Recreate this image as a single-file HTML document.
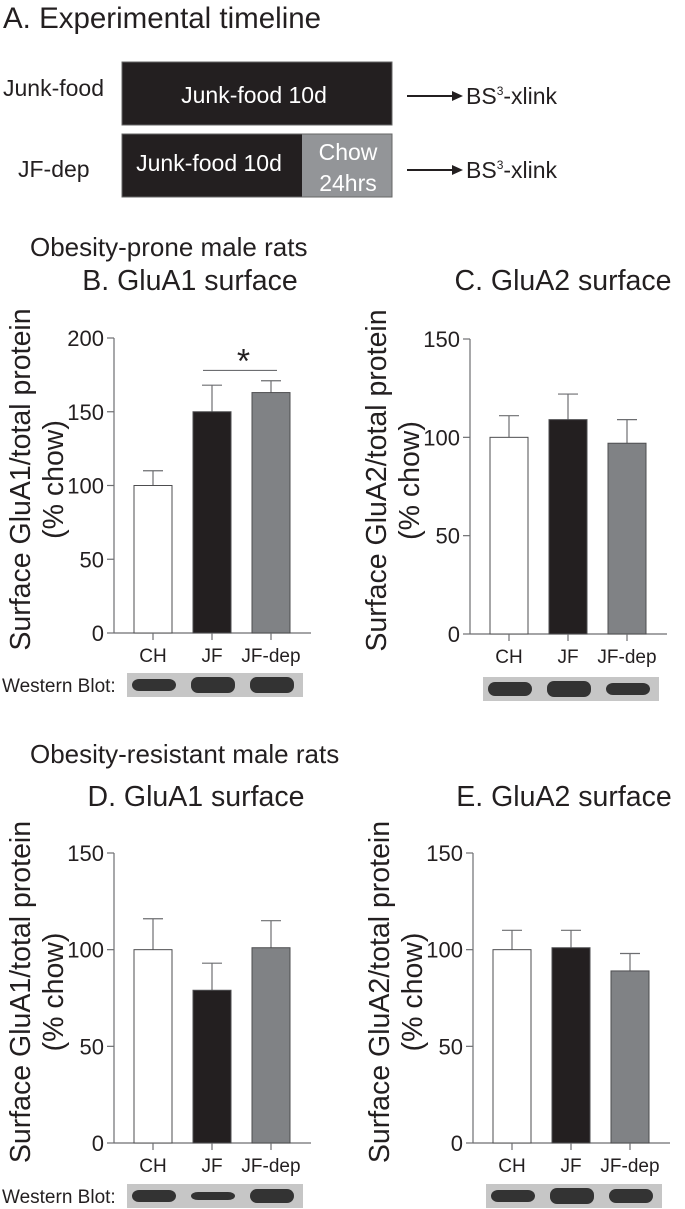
<!DOCTYPE html>
<html><head><meta charset="utf-8">
<style>
html,body{margin:0;padding:0;background:#fff;}
svg{display:block;font-family:"Liberation Sans",Arial,sans-serif;}
</style></head>
<body>
<svg id="fig" width="685" height="1209" viewBox="0 0 685 1209" xmlns="http://www.w3.org/2000/svg">
  <g>
    <text x="3" y="28" font-size="29.5" fill="#231f20">A. Experimental timeline</text>
    <text x="3" y="96" font-size="23" fill="#231f20">Junk-food</text>
    <rect x="122" y="62" width="270" height="63" fill="#231f20" stroke="#666"/>
    <text x="254" y="103" font-size="23" fill="#fff" text-anchor="middle">Junk-food 10d</text>
    <line x1="407" y1="96" x2="454" y2="96" stroke="#231f20" stroke-width="2"/>
    <polygon points="452,91 463,96 452,101" fill="#231f20"/>
    <text x="466" y="104" font-size="23" fill="#231f20">BS<tspan font-size="12" dy="-9">3</tspan><tspan dy="9">-xlink</tspan></text>

    <text x="18" y="177" font-size="23" fill="#231f20">JF-dep</text>
    <rect x="122" y="134" width="180" height="63" fill="#231f20"/>
    <rect x="302" y="134" width="90" height="63" fill="#939598"/>
    <rect x="122" y="134" width="270" height="63" fill="none" stroke="#666"/>
    <text x="209" y="171" font-size="23" fill="#fff" text-anchor="middle">Junk-food 10d</text>
    <text x="348" y="160" font-size="23" fill="#fff" text-anchor="middle">Chow</text>
    <text x="348" y="191" font-size="23" fill="#fff" text-anchor="middle">24hrs</text>
    <line x1="407" y1="170" x2="454" y2="170" stroke="#231f20" stroke-width="2"/>
    <polygon points="452,165 463,170 452,175" fill="#231f20"/>
    <text x="466" y="178" font-size="23" fill="#231f20">BS<tspan font-size="12" dy="-9">3</tspan><tspan dy="9">-xlink</tspan></text>
  </g>
  <text x="30" y="256" font-size="26" fill="#231f20">Obesity-prone male rats</text>
  <text x="30" y="763" font-size="26" fill="#231f20">Obesity-resistant male rats</text>
  <g id="charts"></g>
</svg>
<script>
var categories = ["CH", "JF", "JF-dep"];
var valuesB = [100, 150, 163];
var errorsB = [10, 18, 8];
var valuesC = [100, 109, 97];
var errorsC = [11, 13, 12];
var valuesD = [100, 79, 101];
var errorsD = [16, 14, 14];
var valuesE = [100, 101, 89];
var errorsE = [10, 9, 9];
var ticksB = [0, 50, 100, 150, 200];
var ticks150 = [0, 50, 100, 150];

var NS = "http://www.w3.org/2000/svg";
var root = document.getElementById("charts");
var fills = ["#ffffff", "#231f20", "#808285"];
function mk(tag, attrs, parent) {
  var e = document.createElementNS(NS, tag);
  for (var k in attrs) e.setAttribute(k, attrs[k]);
  (parent || root).appendChild(e);
  return e;
}
function chart(o) {
  var g = mk("g", {});
  
  
  var ymax = o.ticks[o.ticks.length - 1];
  function y(v) { return o.y0 - (v / ymax) * (o.y0 - o.ytop); }
  function xc(i) { return o.ax + 39 + i * 59; }
  var t = mk("text", {x: o.ax + 78 + o.tdx, y: o.titleY, "font-size": 28.5, fill: "#231f20", "text-anchor": "middle"}, g);
  t.textContent = o.title;
  
  
  var ya = mk("line", {x1: o.ax, y1: o.ytop, x2: o.ax, y2: o.y0, stroke: "#6d6e71", "stroke-width": 1.2}, g);
  
  
  var xa = mk("line", {x1: o.ax, y1: o.y0, x2: o.ax + 197, y2: o.y0, stroke: "#6d6e71", "stroke-width": 1.2}, g);
  
  
  o.ticks.forEach(function (tv) {
    var tk = mk("line", {x1: o.ax - 7, y1: y(tv), x2: o.ax, y2: y(tv), stroke: "#6d6e71", "stroke-width": 1.2}, g);
    
    
    var tl = mk("text", {x: o.ax - 10, y: y(tv) + 8, "font-size": 22, fill: "#231f20", "text-anchor": "end"}, g);
    tl.textContent = tv;
    
    
  });
  var yt = mk("text", {"font-size": 28.5, fill: "#231f20", "text-anchor": "middle", transform: "translate(" + (o.ax - 84) + "," + ((o.ytop + o.y0) / 2 - 6) + ") rotate(-90)"}, g);
  
  
  var s1 = mk("tspan", {x: 0, dy: 0}, yt); s1.textContent = o.ylabel;
  var s2 = mk("tspan", {x: 0, dy: 33}, yt); s2.textContent = "(% chow)";
  var bg = mk("rect", {x: o.ax + 13, y: o.blotY, width: 176, height: 24, fill: "#c6c6c6"}, g);
  
  
  categories.forEach(function (c, i) {
    var v = o.values[i], e = o.errors[i], cx = xc(i);
    var eb = mk("line", {x1: cx, y1: y(v + e), x2: cx, y2: y(v), stroke: "#6d6e71", "stroke-width": 1.2}, g);
    
    
    var ec = mk("line", {x1: cx - 10, y1: y(v + e), x2: cx + 10, y2: y(v + e), stroke: "#6d6e71", "stroke-width": 1.2}, g);
    
    
    var b = mk("rect", {x: cx - 19, y: y(v), width: 38, height: o.y0 - y(v), fill: fills[i], stroke: "#4d4d4f", "stroke-width": 1}, g);
    
    
    var xt = mk("line", {x1: cx, y1: o.y0, x2: cx, y2: o.y0 + 7, stroke: "#6d6e71", "stroke-width": 1.2}, g);
    
    
    var xl = mk("text", {x: cx, y: o.y0 + 29, "font-size": 19, fill: "#231f20", "text-anchor": "middle"}, g);
    xl.textContent = c;
    
    
    var band = mk("rect", {x: cx - 21, y: o.blotY + 12 - o.blotR[i], width: 44, height: 2 * o.blotR[i], rx: 7, fill: "#333333"}, g);
    
    
  });
  if (o.wb) {
    var wb = mk("text", {x: 2, y: o.blotY + 19, "font-size": 19, fill: "#231f20"}, g);
    wb.textContent = "Western Blot:";
    
    
  }
  if (o.sig) {
    var sl = mk("line", {x1: xc(1) - 9, y1: y(178), x2: xc(2) + 6, y2: y(178), stroke: "#6d6e71", "stroke-width": 1.2}, g);
    
    
    var st = mk("text", {x: (xc(1) + xc(2)) / 2 + 2, y: y(178) + 2, "font-size": 34, fill: "#231f20", "text-anchor": "middle"}, g);
    st.textContent = "*";
    
    
  }
}
chart({id: "chart-b-glua1-prone", title: "B. GluA1 surface", titleY: 290, tdx: -2, ax: 114, y0: 633, ytop: 338, ticks: ticksB, values: valuesB, errors: errorsB, ylabel: "Surface GluA1/total protein", blotY: 673, blotR: [6, 8, 8], wb: true, sig: true});
chart({id: "chart-c-glua2-prone", title: "C. GluA2 surface", titleY: 290, tdx: 15, ax: 470, y0: 634, ytop: 339, ticks: ticks150, values: valuesC, errors: errorsC, ylabel: "Surface GluA2/total protein", blotY: 677, blotR: [7, 8, 6], wb: false, sig: false});
chart({id: "chart-d-glua1-resistant", title: "D. GluA1 surface", titleY: 806, tdx: 4, ax: 114, y0: 1143, ytop: 853, ticks: ticks150, values: valuesD, errors: errorsD, ylabel: "Surface GluA1/total protein", blotY: 1184, blotR: [6, 4, 7], wb: true, sig: false});
chart({id: "chart-e-glua2-resistant", title: "E. GluA2 surface", titleY: 806, tdx: 13, ax: 473, y0: 1143, ytop: 853, ticks: ticks150, values: valuesE, errors: errorsE, ylabel: "Surface GluA2/total protein", blotY: 1184, blotR: [6, 8, 7], wb: false, sig: false});
</script>
</body></html>
